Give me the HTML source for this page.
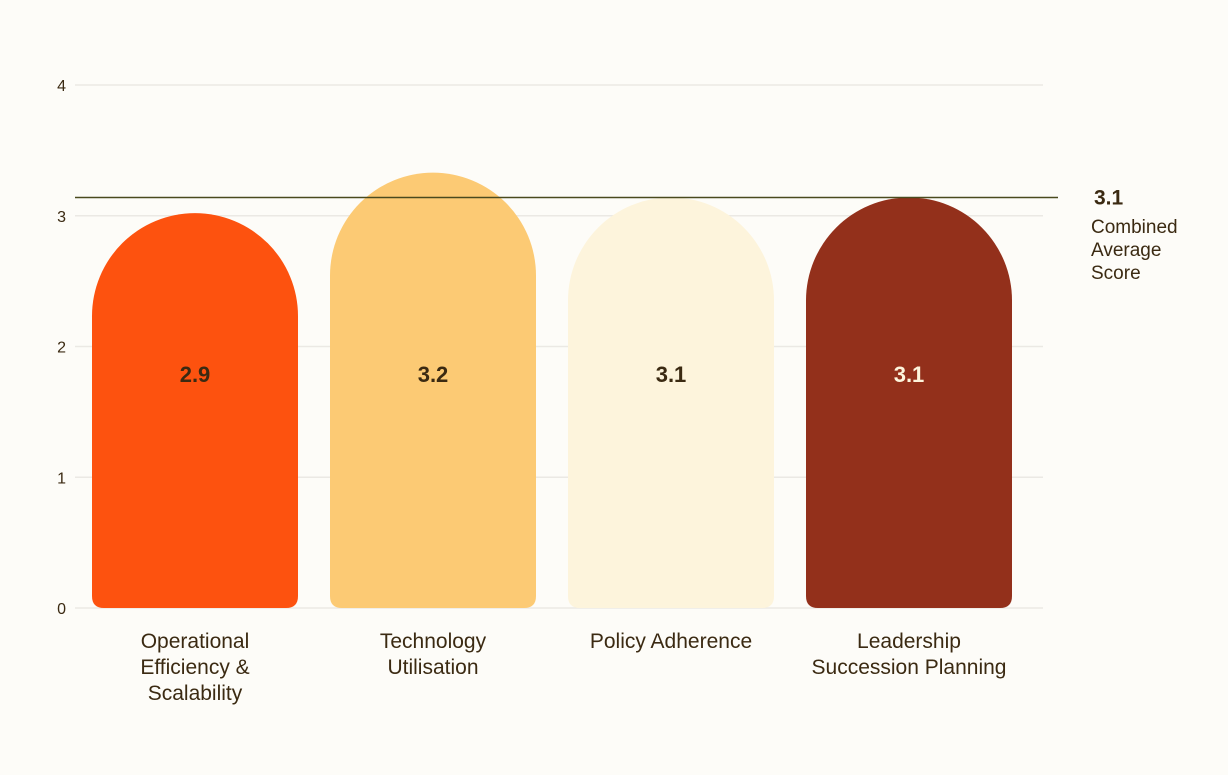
<!DOCTYPE html>
<html><head><meta charset="utf-8"><style>
html,body{margin:0;padding:0;background:#fdfcf8;}
svg{display:block;font-family:"Liberation Sans",sans-serif;}
</style></head><body>
<svg id="chart" width="1228" height="775" viewBox="0 0 1228 775"></svg>
<script>
const categories = [["Operational","Efficiency &","Scalability"],["Technology","Utilisation"],["Policy Adherence"],["Leadership","Succession Planning"]];
const values = [3.02, 3.33, 3.14, 3.14];
const valueLabels = ["2.9","3.2","3.1","3.1"];
const yTicks = [0,1,2,3,4];
const averageValue = 3.14;
const averageLabel = "3.1";

const colors = ["#fd520f","#fcca74","#fdf4dc","#93301b"];
const labelColors = ["#3b2a12","#3b2a12","#3b2a12","#fdf4dc"];
const svg = document.getElementById('chart');
const NS = "http://www.w3.org/2000/svg";
const y0 = 608, unit = 130.75;
const y = v => y0 - v*unit;
const slotLeft = 75, slotW = 238;
const xCenter = i => slotLeft + 120 + i*slotW;
const barW = 206;
function mk(tag, attrs, name){
  const el = document.createElementNS(NS, tag);
  for (const k in attrs) el.setAttribute(k, attrs[k]);
  
  
  svg.appendChild(el);
  return el;
}
yTicks.forEach(t=>{
  mk('line',{x1:75,x2:1043,y1:y(t),y2:y(t),stroke:"#ebe9e4","stroke-width":1.5},'gridline');
  const tx = mk('text',{x:66,y:y(t)+6,"text-anchor":"end","font-size":16,fill:"#3b2a12"},'y-tick-label');
  tx.textContent = t;
});
values.forEach((v,i)=>{
  const cx = xCenter(i), l = cx-barW/2, r = cx+barW/2, R = barW/2, br = 12;
  const top = y(v);
  const d = `M${l},${top+R} A${R},${R} 0 0 1 ${r},${top+R} L${r},${y0-br} Q${r},${y0} ${r-br},${y0} L${l+br},${y0} Q${l},${y0} ${l},${y0-br} Z`;
  mk('path',{d:d,fill:colors[i]},'bar-'+(i+1));
  const lab = mk('text',{x:cx,y:382,"text-anchor":"middle","font-size":22,"font-weight":"bold",fill:labelColors[i]},'bar-value-label');
  lab.textContent = valueLabels[i];
  categories[i].forEach((line,j)=>{
    const c = mk('text',{x:cx,y:648+j*26,"text-anchor":"middle","font-size":21,fill:"#3b2a12"},'category-label');
    c.textContent = line;
  });
});
mk('line',{x1:75,x2:1058,y1:y(averageValue),y2:y(averageValue),stroke:"#4a4a1e","stroke-width":1.5},'average-line');
const av = mk('text',{x:1094,y:y(averageValue)+7,"font-size":21,"font-weight":"bold",fill:"#3b2a12"},'average-value');
av.textContent = averageLabel;
["Combined","Average","Score"].forEach((t,j)=>{
  const e = mk('text',{x:1091,y:233+j*23,"font-size":19,fill:"#3b2a12"},'average-caption');
  e.textContent = t;
});
</script>
</body></html>
